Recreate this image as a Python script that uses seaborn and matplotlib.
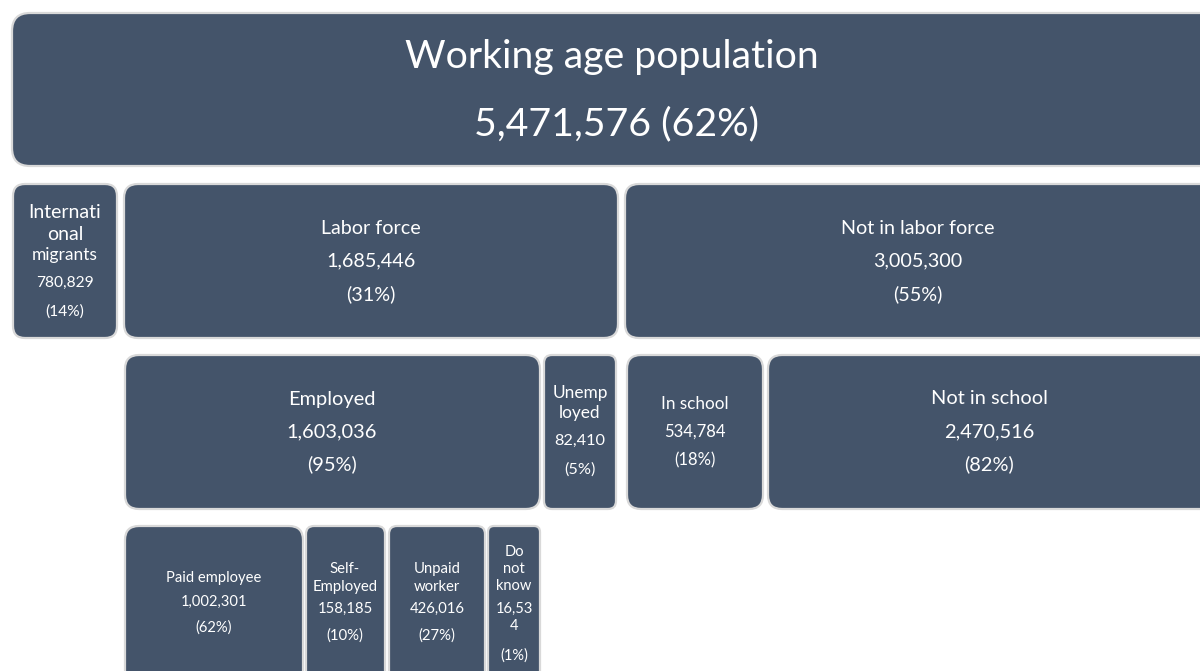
import matplotlib
matplotlib.use("Agg")
import matplotlib.pyplot as plt
from matplotlib.patches import FancyBboxPatch
import seaborn as sns

sns.set_theme(style="white")
plt.rcParams['font.family'] = ['Lato', 'DejaVu Sans']

# ---- data ----
nodes = ["Working age population", "International migrants", "Labor force",
         "Not in labor force", "Employed", "Unemployed", "In school",
         "Not in school", "Paid employee", "Self-Employed", "Unpaid worker",
         "Do not know"]
values = [5471576, 780829, 1685446, 3005300, 1603036, 82410, 534784,
          2470516, 1002301, 158185, 426016, 16534]
percents = [62, 14, 31, 55, 95, 5, 18, 82, 62, 10, 27, 1]

BOX = "#44546A"
EDGE = "#D9D9D9"

W, H = 1200, 671
fig = plt.figure(figsize=(12, 6.71), dpi=100)
ax = fig.add_axes([0, 0, 1, 1])
ax.set_xlim(0, W)
ax.set_ylim(H, 0)
ax.axis("off")

def fmt(v):
    return f"{v:,}"

def box(x0, y0, x1, y1, r=16):
    p = FancyBboxPatch((x0, y0), x1 - x0, y1 - y0,
                       boxstyle=f"round,pad=0,rounding_size={r}",
                       fc=BOX, ec=EDGE, lw=1.6, zorder=2)
    ax.add_patch(p)

def txt(x, y, s, size):
    ax.text(x, y, s, color="white", fontsize=size, ha="center", va="center", zorder=3)

v = dict(zip(nodes, values))
pc = dict(zip(nodes, percents))

# Top
box(12, 13, 1230, 166, 18)
txt(612, 57, "Working age population", 28.3)
txt(616, 124, f"{fmt(v['Working age population'])} ({pc['Working age population']}%)", 28.3)

# International migrants
n = "International migrants"
box(13, 184, 117, 338, 12)
txt(65, 212, "Internati", 14)
txt(65, 234, "onal", 14)
txt(65, 255, "migrants", 12.5)
txt(65, 283, fmt(v[n]), 11.2)
txt(65, 312, f"({pc[n]}%)", 11.2)

# Labor force
n = "Labor force"
box(124, 184, 618, 338, 14)
txt(371, 228, n, 14.2)
txt(371, 261, fmt(v[n]), 14.2)
txt(371, 294, f"({pc[n]}%)", 14.2)

# Not in labor force
n = "Not in labor force"
box(625, 184, 1230, 338, 14)
txt(918, 228, n, 14.2)
txt(918, 261, fmt(v[n]), 14.2)
txt(918, 294, f"({pc[n]}%)", 14.2)

# Employed
n = "Employed"
box(125, 355, 540, 509, 14)
txt(332, 399, n, 14.4)
txt(332, 432, fmt(v[n]), 14.4)
txt(332, 464, f"({pc[n]}%)", 14.4)

# Unemployed
n = "Unemployed"
box(544, 355, 616, 509, 8)
txt(580, 393, "Unemp", 12.4)
txt(580, 413, "loyed", 12.4)
txt(580, 441, fmt(v[n]), 11.7)
txt(580, 470, f"({pc[n]}%)", 11.7)

# In school
n = "In school"
box(627, 355, 763, 509, 14)
txt(695, 404, n, 12.3)
txt(695, 432, fmt(v[n]), 12)
txt(695, 460, f"({pc[n]}%)", 12)

# Not in school
n = "Not in school"
box(768, 355, 1230, 509, 14)
txt(989, 399, n, 14.4)
txt(989, 432, fmt(v[n]), 14.4)
txt(989, 464, f"({pc[n]}%)", 14.4)

# Paid employee
n = "Paid employee"
box(125, 526, 303, 700, 14)
txt(214, 578, n, 10.6)
txt(214, 602, fmt(v[n]), 10.6)
txt(214, 628, f"({pc[n]}%)", 10.6)

# Self-Employed
n = "Self-Employed"
box(306, 526, 385, 700, 8)
txt(345, 569, "Self-", 10.7)
txt(345, 587, "Employed", 10.7)
txt(345, 609, fmt(v[n]), 10.7)
txt(345, 636, f"({pc[n]}%)", 10.7)

# Unpaid worker
n = "Unpaid worker"
box(389, 526, 485, 700, 8)
txt(437, 569, "Unpaid", 10.7)
txt(437, 587, "worker", 10.7)
txt(437, 609, fmt(v[n]), 10.7)
txt(437, 636, f"({pc[n]}%)", 10.7)

# Do not know
n = "Do not know"
box(488, 526, 540, 700, 6)
s = fmt(v[n])
txt(514, 552, "Do", 10.5)
txt(514, 569, "not", 10.5)
txt(514, 586, "know", 10.5)
txt(514, 609, s[:5], 10.5)
txt(514, 626, s[5:], 10.5)
txt(514, 656, f"({pc[n]}%)", 10.5)

fig.savefig("out.png", dpi=100, facecolor="white")
